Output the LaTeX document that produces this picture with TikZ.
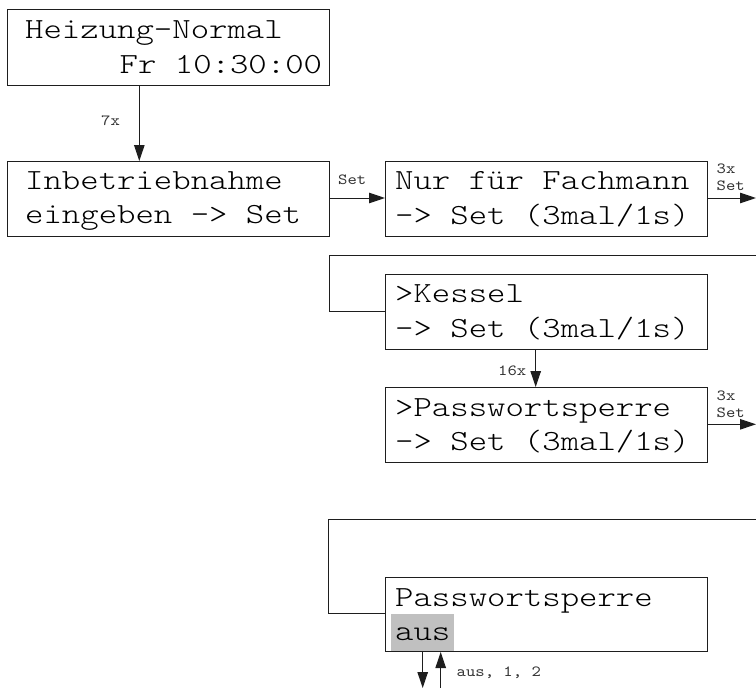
\documentclass[tikz,border=0pt]{standalone}
\usepackage{fontspec}
\newfontfamily\lcdfont{lmmonolt10-regular.otf}[FakeStretch=1.2]
\newfontfamily\lblfont{lmmono10-regular.otf}[FakeStretch=1.15]
\usetikzlibrary{arrows.meta}
\definecolor{hl}{RGB}{192,192,192}
\definecolor{ln}{RGB}{30,30,30}
\tikzset{
  box/.style={draw=ln, line width=1pt, minimum width=322pt, minimum height=75pt, inner sep=0pt, anchor=north west},
  lcd/.style={font=\lcdfont\fontsize{29.2}{34}\selectfont, anchor=base west, inner sep=0pt},
  lbl/.style={font=\lblfont\fontsize{15.5}{17}\selectfont, anchor=base west, inner sep=0pt, text=black!80},
  conn/.style={draw=ln, line width=1pt},
  arr/.style={conn, -{Triangle[length=16pt,width=10.5pt]}},
}
\begin{document}
\begin{tikzpicture}[x=1pt,y=-1pt]
\useasboundingbox (0,0) rectangle (756,688);
% boxes
\node[box, minimum width=321.7pt, minimum height=75.7pt] (b1) at (7.3,9.3) {};
\node[box, minimum width=321.7pt] (b2) at (7.3,161) {};
\node[box, minimum height=75.3pt] (b3) at (385,160.7) {};
\node[box, minimum height=74.5pt] (b4) at (385,274) {};
\node[box] (b5) at (385,387) {};
\node[box, minimum height=74pt] (b6) at (385,577) {};
% highlight
\node[fill=hl, inner sep=0pt, minimum width=63pt, minimum height=37.5pt, anchor=north west] (hlaus) at (391,613.5) {};
% texts
\node[lcd] (t1a) at (25,38) {Heizung-Normal};
\node[lcd] (t1b) at (119.5,73) {Fr 10:30:00};
\node[lcd] (t2a) at (25,189) {Inbetriebnahme};
\node[lcd] (t2b) at (25,223) {eingeben -> Set};
\node[lcd] (t3a) at (395,189) {Nur für Fachmann};
\node[lcd] (t3b) at (395,224) {-> Set (3mal/1s)};
\node[lcd] (t4a) at (395,302) {>Kessel};
\node[lcd] (t4b) at (395,337) {-> Set (3mal/1s)};
\node[lcd] (t5a) at (395,416) {>Passwortsperre};
\node[lcd] (t5b) at (395,450) {-> Set (3mal/1s)};
\node[lcd] (t6a) at (395,606) {Passwortsperre};
\node[lcd] (t6b) at (395,640) {aus};
% labels
\node[lbl] (l7x) at (101,125) {7x};
\node[lbl] (lset) at (338,184) {Set};
\node[lbl] (l3xa) at (716.5,173) {3x};
\node[lbl] (lseta) at (716.5,190) {Set};
\node[lbl] (l16x) at (498,375) {16x};
\node[lbl] (l3xb) at (716.5,400) {3x};
\node[lbl] (lsetb) at (716.5,417) {Set};
\node[lbl] (laus) at (456.5,676) {aus, 1, 2};
% coordinates
\coordinate (c1) at (139.3,0);
\coordinate (c2) at (0,198);
\coordinate (e1) at (756,198);
\coordinate (e2) at (756,255);
\coordinate (k1) at (329,255);
\coordinate (k2) at (329,311.5);
\coordinate (c3) at (535.7,0);
\coordinate (c4) at (0,424.3);
\coordinate (e3) at (756,424.3);
\coordinate (e4) at (756,519.3);
\coordinate (k3) at (328.3,519.3);
\coordinate (k4) at (328.3,613.3);
\coordinate (e5) at (422.7,688);
\coordinate (e6) at (440.7,688);
% connectors
\draw[arr] (b1.south -| c1) -- (b2.north -| c1);
\draw[arr] (b2.east |- c2) -- (b3.west |- c2);
\draw[arr] (b3.east |- c2) -- (e1);
\draw[conn] (e2) -- (k1) -- (k2) -- (b4.west |- k2);
\draw[arr] (b4.south -| c3) -- (b5.north -| c3);
\draw[arr] (b5.east |- c4) -- (e3);
\draw[conn] (e4) -- (k3) -- (k4) -- (b6.west |- k4);
\draw[arr] (b6.south -| e5) -- (e5);
\draw[arr] (e6) -- (b6.south -| e6);
\end{tikzpicture}
\end{document}
